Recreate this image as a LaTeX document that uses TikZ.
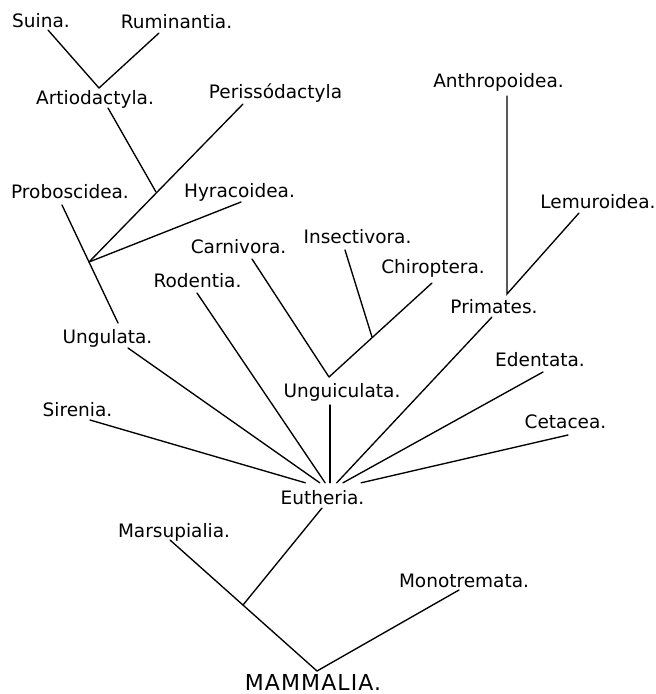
\documentclass[tikz,border=0pt]{standalone}
\usepackage{fontspec}
\setmainfont{DejaVu Sans}
\begin{document}
\begin{tikzpicture}[x=1pt,y=-1pt,
  lbl/.style={anchor=base, inner sep=0pt, font=\fontsize{18.5}{20}\selectfont},
  big/.style={anchor=base, inner sep=0pt, font=\fontsize{22}{24}\selectfont\addfontfeatures{LetterSpace=5}},
  br/.style={line width=1.35pt, line cap=round},
  hub/.style={inner sep=0pt, minimum width=80pt, minimum height=14pt}]
\useasboundingbox (0,0) rectangle (656,694);
% labels
\node[lbl] (suina)  at (41,27)    {Suina.};
\node[lbl] (rumin)  at (176.5,28) {Ruminantia.};
\node[lbl] (artio)  at (95,104)   {Artiodactyla.};
\node[lbl] (periss) at (275.5,98) {Perissódactyla};
\node[lbl] (anthro) at (498.5,87) {Anthropoidea.};
\node[lbl] (probos) at (70,198)   {Proboscidea.};
\node[lbl] (hyrac)  at (239.5,197){Hyracoidea.};
\node[lbl] (lemur)  at (598,208)  {Lemuroidea.};
\node[lbl] (carni)  at (238.5,253){Carnivora.};
\node[lbl] (insect) at (357.5,243){Insectivora.};
\node[lbl] (chiro)  at (433,273)  {Chiroptera.};
\node[lbl] (roden)  at (197.5,287){Rodentia.};
\node[lbl] (prim)   at (494,313)  {Primates.};
\node[lbl] (ungul)  at (107.5,343){Ungulata.};
\node[lbl] (edent)  at (540,366)  {Edentata.};
\node[lbl] (unguic) at (342,397)  {Unguiculata.};
\node[lbl] (siren)  at (77.5,416) {Sirenia.};
\node[lbl] (cetac)  at (565.5,428){Cetacea.};
\node[lbl] (euth)   at (322.5,504){Eutheria.};
\node[lbl] (marsu)  at (174,537)  {Marsupialia.};
\node[lbl] (monot)  at (464,587)  {Monotremata.};
\node[big] (mamm)   at (313,690)  {MAMMALIA.};
% branch points
\coordinate (jA) at (99,88);
\coordinate (jB) at (156,192);
\coordinate (jC) at (89,262);
\coordinate (jD) at (329,377);
\coordinate (jE) at (372,337);
\coordinate (jF) at (507,294);
\coordinate (jG) at (243,605);
\coordinate (jH) at (317,671);
\node[hub] (eu) at (330,490) {};
% line ends near labels
\coordinate (cSuina)  at (48,30);
\coordinate (cRumin)  at (159,33);
\coordinate (cArtio)  at (108,108);
\coordinate (cPeriss) at (243,104);
\coordinate (cProbos) at (62,205);
\coordinate (cHyrac)  at (241,202);
\coordinate (cUngul)  at (128,348);
\coordinate (cUngulT) at (118,323);
\coordinate (cSiren)  at (90,420);
\coordinate (cRoden)  at (197,293);
\coordinate (cCarni)  at (252,259);
\coordinate (cInsect) at (345,250);
\coordinate (cChiro)  at (432,283);
\coordinate (cUnguic) at (330,405);
\coordinate (cAnthro) at (507,96);
\coordinate (cLemur)  at (579,213);
\coordinate (cPrim)   at (492,317);
\coordinate (cEdent)  at (543,372);
\coordinate (cCetac)  at (568,435);
\coordinate (cEuth)   at (322,508);
\coordinate (cMarsu)  at (170,540);
\coordinate (cMonot)  at (459,590);
% connectors
\draw[br] (cSuina) -- (jA) -- (cRumin);
\draw[br] (cArtio) -- (jB);
\draw[br] (cPeriss) -- (jC);
\draw[br] (cHyrac) -- (jC);
\draw[br] (cProbos) -- (jC) -- (cUngulT);
\draw[br] (cUngul) -- (eu);
\draw[br] (cSiren) -- (eu);
\draw[br] (cRoden) -- (eu);
\draw[br] (cCarni) -- (jD);
\draw[br] (cChiro) -- (jD);
\draw[br] (cInsect) -- (jE);
\draw[br] (cUnguic) -- (cUnguic |- eu.north);
\draw[br] (cAnthro) -- (jF) -- (cLemur);
\draw[br] (cPrim) -- (eu);
\draw[br] (cEdent) -- (eu);
\draw[br] (cCetac) -- (eu);
\draw[br] (cEuth) -- (jG);
\draw[br] (cMarsu) -- (jH) -- (cMonot);
\end{tikzpicture}
\end{document}
